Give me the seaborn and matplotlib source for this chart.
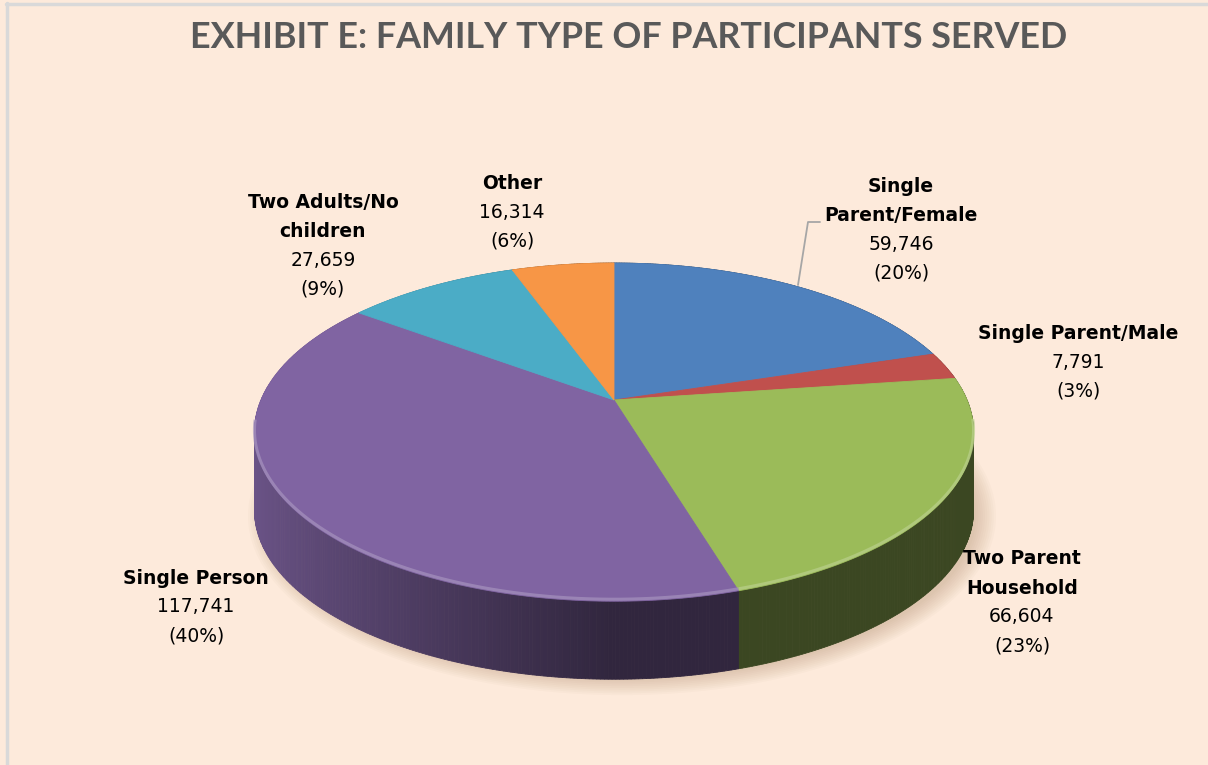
import numpy as np
import seaborn as sns
import matplotlib.pyplot as plt
from matplotlib.colors import to_rgb
from matplotlib.patches import Ellipse

# data
names = ["Single\nParent/Female", "Single Parent/Male", "Two Parent\nHousehold",
         "Single Person", "Two Adults/No\nchildren", "Other"]
counts = [59746, 7791, 66604, 117741, 27659, 16314]
hexes = ["#4F81BD", "#C0504D", "#9BBB59", "#8064A2", "#4BACC6", "#F79646"]
title = "EXHIBIT E: FAMILY TYPE OF PARTICIPANTS SERVED"

# label anchor (centre x, first line y) in pixels
label_pos = [(901, 186), (1078, 333), (1022, 559), (196, 578), (323, 202), (512, 183)]

sns.set_theme(style="white")
plt.rcParams['font.family'] = ['DejaVu Sans']
colors = sns.color_palette(hexes)

BG = "#FDEADB"
fig = plt.figure(figsize=(12.08, 7.65), dpi=100, facecolor=BG)
ax = fig.add_axes([0, 0, 1, 1])
ax.set_xlim(0, 1208)
ax.set_ylim(765, 0)
ax.axis("off")
ax.set_facecolor(BG)

# pie geometry (perspective-tilted disc)
cx, cy = 614, 400
A, C, K, T = 353, 163, 0.19, 78


def proj(t, dz=0.0):
    u, v = np.sin(t), -np.cos(t)
    s = 1.0 / (1.0 - K * v)
    return cx + A * u * s, cy + C * v * s + dz


total = sum(counts)
fracs = np.array(counts) / total
edges = np.concatenate([[0], np.cumsum(fracs)]) * 2 * np.pi

# soft shadow
ecy = cy + C * K / (1 - K ** 2) + T
for i in range(10):
    ax.add_patch(Ellipse((cx + 8, ecy + 6), 2 * (360 + 14 - i * 2.2), 2 * (167 + 12 - i * 1.8),
                         color="#a07a5a", alpha=0.035, lw=0))

# side walls
strips = []
for c, t0, t1 in zip(colors, edges[:-1], edges[1:]):
    n = max(int((t1 - t0) / (2 * np.pi) * 720), 2)
    ts = np.linspace(t0, t1, n + 1)
    for a, b in zip(ts[:-1], ts[1:]):
        u = np.sin((a + b) / 2)
        f = np.clip(0.38 + 0.47 * max(-u, 0), 0.38, 0.85)
        col = tuple(np.array(to_rgb(c)) * f)
        xa, ya = proj(a)
        xb, yb = proj(b)
        strips.append((-np.cos((a + b) / 2), [xa, xb, xb, xa], [ya, yb, yb + T, ya + T], col))
strips.sort(key=lambda s: s[0])
for _, xs, ys, col in strips:
    ax.fill(xs, ys, color=col, lw=0.6, ec=col)

# top face
for c, t0, t1 in zip(colors, edges[:-1], edges[1:]):
    ts = np.linspace(t0, t1, 200)
    xs, ys = proj(ts)
    ax.fill(np.r_[cx, xs], np.r_[cy, ys], color=c, lw=0.6, ec=c)

# bevel highlight along the front rim
for c, t0, t1 in zip(colors, edges[:-1], edges[1:]):
    ts = np.linspace(t0, t1, 200)
    keep = -np.cos(ts) > 0.12
    if keep.sum() < 2:
        continue
    xs, ys = proj(ts[keep])
    hl = tuple(np.array(to_rgb(c)) * 0.7 + 0.3)
    ax.plot(xs, ys - 2, color=hl, lw=2.2, alpha=0.7, solid_capstyle="butt")

# labels
step = 29
for name, n, (lx, ly) in zip(names, counts, label_pos):
    y = ly
    for line in name.split("\n"):
        ax.text(lx, y, line, ha="center", va="center", fontsize=13.5, fontweight="bold", color="black")
        y += step
    ax.text(lx, y, f"{n:,}", ha="center", va="center", fontsize=13.5, color="black")
    y += step
    ax.text(lx, y, f"({n / total:.0%})", ha="center", va="center", fontsize=13.5, color="black")

# leader line for Single Parent/Female
ax.plot([820, 808, 798], [222, 222, 285], color="#A6A6A6", lw=1.3)

# title, sized to the reference width
ttl = ax.text(629, 37, title, ha="center", va="center", fontsize=29, fontweight="bold",
              color="#595959", family=["Lato", "DejaVu Sans"])
fig.canvas.draw()
w = ttl.get_window_extent().width
ttl.set_fontsize(29 * 878 / w)

# chart frame
ax.plot([7, 7], [3, 765], color="#D9D9D9", lw=2.5)
ax.plot([6, 1208], [4, 4], color="#D9D9D9", lw=2.5)

plt.savefig("out.png", dpi=100, facecolor=BG)
